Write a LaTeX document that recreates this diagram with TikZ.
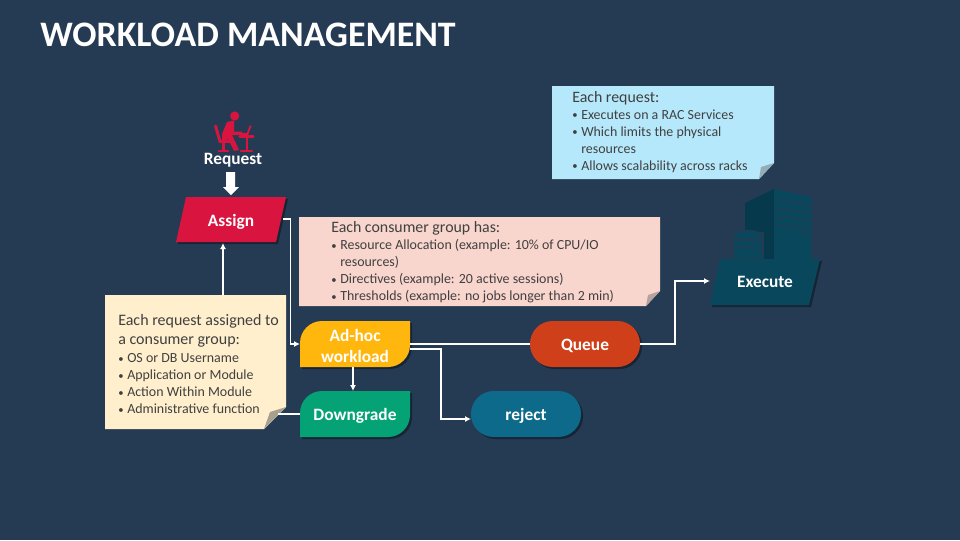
\documentclass[tikz,border=0pt]{standalone}
\usepackage{fontspec}
\setmainfont{Carlito}
\usetikzlibrary{arrows.meta}
\definecolor{bgc}{HTML}{253B54}
\definecolor{crim}{HTML}{D8143F}
\definecolor{orng}{HTML}{FFB60D}
\definecolor{grn}{HTML}{05A276}
\definecolor{rust}{HTML}{CF401A}
\definecolor{teal2}{HTML}{0E6A8A}
\definecolor{exec}{HTML}{08475C}
\definecolor{execd}{HTML}{07394C}
\definecolor{nblue}{HTML}{B6E8FB}
\definecolor{npink}{HTML}{F8D5CD}
\definecolor{ncream}{HTML}{FFEFCD}
\definecolor{ntxt}{HTML}{404040}
\newcommand{\bul}[1]{\makebox[6.75pt][l]{\raisebox{0.3pt}{\footnotesize\textbullet}}#1}
\newcommand{\cont}[1]{\hspace*{6.75pt}#1}
\newcommand{\headf}{\fontsize{11.9}{12.75}\selectfont}
\newcommand{\creamf}{\fontsize{12}{14.4}\selectfont}
\tikzset{
  x=0.75pt,y=-0.75pt,
  hit/.style={inner sep=0pt,minimum width=#1,text=white,font=\fontsize{13}{15.75}\selectfont\bfseries,align=center},
  shadowfill/.style={fill=black,opacity=.38},
  link/.style={draw=white,line width=1.1pt},
  linkarrow/.style={link,-{Latex[length=4.5pt,width=4.5pt]}},
  notetext/.style={inner sep=0pt,anchor=north west,align=left,text=ntxt,font=\fontsize{10.45}{12.75}\selectfont},
  icon/.style={crim,line width=2pt,line cap=round}
}
\begin{document}
\begin{tikzpicture}
\useasboundingbox[fill=bgc] (0,0) rectangle (960,540);
% title
\node[anchor=west,inner sep=0pt,text=white,font=\fontsize{26.9}{30}\selectfont\bfseries] (title) at (40,35) {WORKLOAD MANAGEMENT};

% person icon
\fill[crim] (234.7,116) circle (4.6);
\fill[crim] (227,122) -- (234,120.5) -- (234,131.5) -- (242,131.5) -- (242,135) -- (232,135) -- (239,150) -- (234,151) -- (228,139) -- (222,142) -- (222,134) -- cycle;
\draw[icon,line width=2.2pt] (215.5,126) -- (220,141.5) -- (230,141.5);
\draw[icon,line width=2.2pt] (223.5,142) -- (223.5,150) (219,151) -- (228,151);
\draw[icon,line width=2.4pt] (240,136.5) -- (253,136.5);
\draw[icon,line width=1.8pt] (246.7,137) -- (246.7,150) (241,151) -- (252,151);
\draw[icon,line width=1.4pt] (250.5,126) -- (247.5,134) -- (242,134);
\node[hit=60pt] (request) at (233,160.5) {Request};
% block arrow
\fill[white] (226,172) -- (235,172) -- (235,187) -- (239,187) -- (231,195) -- (223,187) -- (226,187) -- cycle;

% server icon
\fill[execd] (745,203) -- (774,189) -- (774,259) -- (745,259) -- cycle;
\fill[exec] (774,189) -- (811,197) -- (811,259) -- (774,259) -- cycle;
\foreach \a in {0,1,2,3}{
  \draw[bgc,line width=0.9pt] (775,{200+\a*8}) -- (810,{205+\a*8});
}
\fill[bgc] (805,233.5) circle (2);
\fill[bgc] (731,232) -- (764,232) -- (764,259) -- (731,259) -- cycle;
\fill[exec] (733.5,236) -- (761.5,236) -- (761.5,258) -- (733.5,258) -- cycle;
\fill[exec] (747.5,235.5) ellipse (14 and 5);
\draw[bgc,line width=1pt] (747.5,235.5) ellipse (14 and 5);
\draw[bgc,line width=1pt] (733.5,244) arc[start angle=180,end angle=360,x radius=14,y radius=5];
\draw[bgc,line width=1pt] (733.5,252) arc[start angle=180,end angle=360,x radius=14,y radius=5];

% shadows
\fill[shadowfill] (188,199) -- (288,199) -- (278,244) -- (178,244) -- cycle;
\fill[shadowfill] (722,261) -- (822,261) -- (811,307) -- (712,307) -- cycle;
\fill[shadowfill] (324,323) -- (412,323) -- (412,347) arc[start angle=0,end angle=90,radius=22] -- (302,369) -- (302,345) arc[start angle=180,end angle=270,radius=22] -- cycle;
\fill[shadowfill] (324,393) -- (412,393) -- (412,417) arc[start angle=0,end angle=90,radius=22] -- (302,439) -- (302,415) arc[start angle=180,end angle=270,radius=22] -- cycle;
\fill[shadowfill,rounded corners=17pt] (532,323) rectangle (642,369);
\fill[shadowfill,rounded corners=17pt] (473,393) rectangle (583,439);

% shapes
\fill[crim] (186,197) -- (286,197) -- (276,242) -- (176,242) -- cycle;
\fill[exec] (720,259) -- (820,259) -- (809,305) -- (710,305) -- cycle;
\fill[orng] (322,321) -- (410,321) -- (410,345) arc[start angle=0,end angle=90,radius=22] -- (300,367) -- (300,343) arc[start angle=180,end angle=270,radius=22] -- cycle;
\fill[grn] (322,391) -- (410,391) -- (410,415) arc[start angle=0,end angle=90,radius=22] -- (300,437) -- (300,413) arc[start angle=180,end angle=270,radius=22] -- cycle;
\fill[rust,rounded corners=17pt] (530,321) rectangle (640,367);
\fill[teal2,rounded corners=17pt] (471,391) rectangle (581,437);

% sticky notes
\fill[nblue] (552,86) -- (774,86) -- (774,163) -- (759,179) -- (552,179) -- cycle;
\fill[nblue!62!black!75!white] (774,163) -- (759,179) -- (761,167) -- cycle;
\fill[npink] (299,217) -- (660,217) -- (660,291) -- (646,306) -- (299,306) -- cycle;
\fill[npink!65!black!80!white] (660,291) -- (646,306) -- (648,295) -- cycle;
\fill[ncream] (105,295) -- (286,295) -- (286,407) -- (264,429) -- (105,429) -- cycle;
\fill[ncream!60!black!85!white] (286,407) -- (264,429) -- (270,412) -- cycle;

% note texts
\node[notetext] (noteblue) at (572,91) {\headf Each request:\\
\bul{Executes on a RAC Services}\\
\bul{Which limits the physical}\\
\cont{resources}\\
\bul{Allows scalability across racks}};
\node[notetext] (notepink) at (331,221.5) {\headf Each consumer group has:\\
\bul{Resource Allocation (example: 10\% of CPU/IO}\\
\cont{resources)}\\
\bul{Directives (example: 20 active sessions)}\\
\bul{Thresholds (example: no jobs longer than 2 min)}};
\node[notetext] (notecream) at (118,314) {\creamf Each request assigned to\\[1.5pt]
\creamf a consumer group:\\[1pt]
\bul{OS or DB Username}\\
\bul{Application or Module}\\
\bul{Action Within Module}\\
\bul{Administrative function}};

% node labels
\node[hit=75pt,minimum height=33.75pt] (assign) at (231,222) {Assign};
\node[hit=75pt,minimum height=34.5pt] (execute) at (765,282) {Execute};
\node[hit=82.5pt,minimum height=34.5pt] (adhoc) at (355,345.5) {Ad-hoc\\workload};
\node[hit=82.5pt,minimum height=34.5pt] (downgrade) at (355,415.5) {Downgrade};
\node[hit=82.5pt,minimum height=34.5pt] (queue) at (585,345.5) {Queue};
\node[hit=82.5pt,minimum height=34.5pt] (reject) at (526,415.5) {reject};
\coordinate (creamtop) at (223,295);
\coordinate (assignbottom) at (223,243);
\coordinate (creamfold) at (278,414);
\coordinate (assignright) at (283,219);
\coordinate (adhocq) at (410,344);
\coordinate (queuew) at (530,344);
\coordinate (queuee) at (640,344);
\coordinate (adhocw) at (300,344);
\coordinate (adhocs) at (353,367);
\coordinate (downn) at (353,391);
\coordinate (adhocr) at (410,349);
\coordinate (rejectw) at (471,419);
\coordinate (execw) at (710,281);
\coordinate (downw) at (300,414);

% connectors
\draw[linkarrow] (creamtop) -- (assignbottom);
\draw[linkarrow] (assignright) -- (290.5,219) -- (290.5,344) -- (adhocw);
\draw[linkarrow] (adhocs) -- (downn);
\draw[link] (adhocq) -- (queuew);
\draw[linkarrow] (adhocr) -- (441,349) -- (441,419) -- (rejectw);
\draw[linkarrow] (queuee) -- (675,344) -- (675,281) -- (execw);
\draw[link] (creamfold) -- (downw);
\end{tikzpicture}
\end{document}
